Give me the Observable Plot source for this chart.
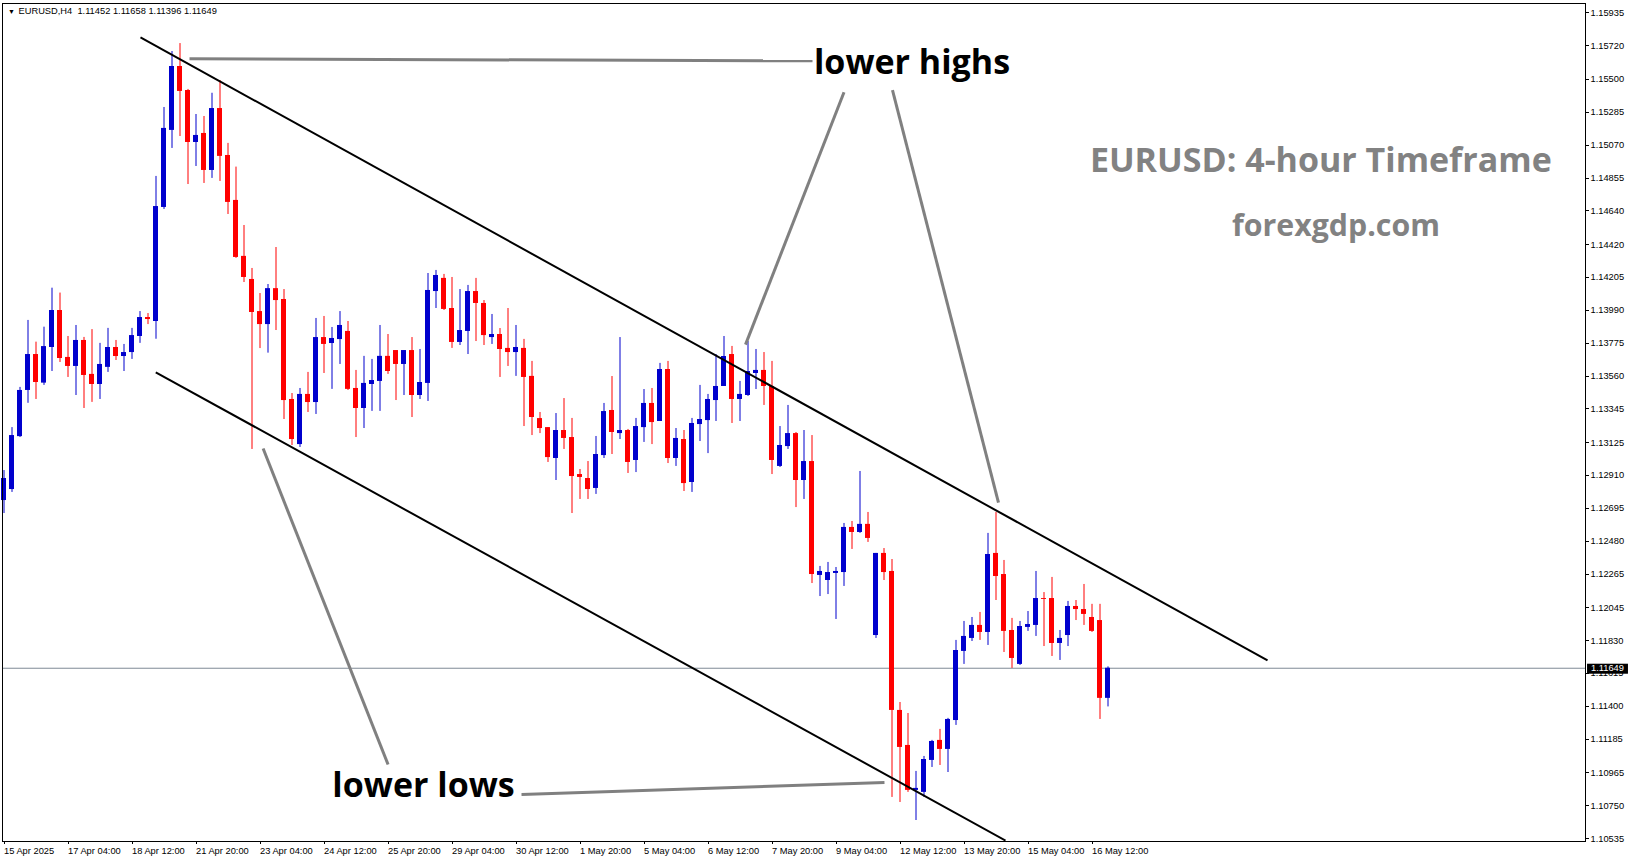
<!DOCTYPE html>
<html><head><meta charset="utf-8">
<script src="https://cdn.jsdelivr.net/npm/d3@7"></script>
<script src="https://cdn.jsdelivr.net/npm/@observablehq/plot@0.6"></script>
<style>
html,body{margin:0;padding:0;background:#fff;overflow:hidden;}
#chart svg{display:block;}
</style></head><body><div id="chart"></div>
<script>
// ---- data (EURUSD H4, bar 0 = 15 Apr 2025 20:00, weekends skipped) ----
const opens = [1.12746,1.12818,1.13164,1.13466,1.13701,1.13514,1.13747,1.13989,1.13682,1.13623,
1.13793,1.13571,1.13505,1.13617,1.13747,1.13688,1.13714,1.13819,1.13943,1.13917,
1.14663,1.15167,1.15585,1.15428,1.15088,1.15147,1.14905,1.15310,1.15003,1.14709,
1.14343,1.14192,1.13982,1.13897,1.14132,1.14061,1.13407,1.13112,1.13440,1.13387,
1.13812,1.13773,1.13799,1.13852,1.13479,1.13348,1.13505,1.13525,1.13689,1.13727,
1.13636,1.13727,1.13433,1.13512,1.14113,1.14199,1.14002,1.13780,1.13852,1.14113,
1.14035,1.13812,1.13832,1.13741,1.13714,1.13741,1.13558,1.13282,1.13223,1.13021,
1.13204,1.13158,1.12916,1.12890,1.12825,1.13040,1.13335,1.13184,1.13204,1.13008,
1.13223,1.13381,1.13263,1.13603,1.13021,1.13145,1.12864,1.13243,1.13269,1.13400,
1.13492,1.13701,1.13407,1.13433,1.13577,1.13597,1.13492,1.12969,1.13099,1.13184,
1.12877,1.13001,1.12256,1.12223,1.12269,1.12275,1.12570,1.12537,1.12590,1.11863,
1.12400,1.12282,1.11373,1.11144,1.10850,1.10837,1.11046,1.11177,1.11118,1.11307,
1.11759,1.11844,1.11929,1.11883,1.12400,1.12262,1.11896,1.11674,1.11916,1.11929,
1.12105,1.12105,1.11811,1.11863,1.12053,1.12033,1.11981,1.11961,1.11452];
const highs = [1.12942,1.13223,1.13486,1.13924,1.13782,1.13880,1.14135,1.14103,1.13819,1.13891,
1.13813,1.13864,1.13774,1.13872,1.13793,1.13767,1.13872,1.13982,1.13969,1.14866,
1.15317,1.15683,1.15735,1.15435,1.15271,1.15258,1.15410,1.15493,1.15082,1.14927,
1.14545,1.14264,1.14100,1.14159,1.14401,1.14126,1.13446,1.13479,1.13584,1.13937,
1.13950,1.13878,1.13982,1.13917,1.13597,1.13689,1.13669,1.13891,1.13832,1.13727,
1.13727,1.13812,1.13734,1.14231,1.14251,1.14225,1.14205,1.14126,1.14153,1.14199,
1.14054,1.13963,1.13871,1.14002,1.13891,1.13800,1.13656,1.13322,1.13223,1.13315,
1.13413,1.13283,1.12949,1.13001,1.13165,1.13381,1.13557,1.13812,1.13211,1.13283,
1.13472,1.13479,1.13643,1.13656,1.13217,1.13204,1.13283,1.13499,1.13440,1.13701,
1.13819,1.13754,1.13525,1.13786,1.13734,1.13714,1.13656,1.13230,1.13368,1.13191,
1.13204,1.13171,1.12315,1.12341,1.12308,1.12596,1.12609,1.12936,1.12668,1.12400,
1.12432,1.12360,1.11425,1.11353,1.10974,1.11072,1.11177,1.11249,1.11321,1.11831,
1.11955,1.11981,1.12014,1.12531,1.12668,1.12354,1.11975,1.11955,1.12020,1.12282,
1.12144,1.12243,1.11896,1.12086,1.12092,1.12197,1.12067,1.12067,1.11658];
const lows = [1.12661,1.12799,1.13158,1.13382,1.13407,1.13499,1.13590,1.13649,1.13551,1.13433,
1.13348,1.13388,1.13407,1.13584,1.13662,1.13590,1.13669,1.13774,1.13897,1.13801,
1.14650,1.15049,1.15127,1.14813,1.14931,1.14820,1.14853,1.14833,1.14617,1.14330,
1.14172,1.13080,1.13740,1.13710,1.13858,1.13276,1.13106,1.13093,1.13322,1.13309,
1.13577,1.13473,1.13636,1.13466,1.13158,1.13217,1.13329,1.13329,1.13571,1.13400,
1.13433,1.13289,1.13407,1.13394,1.14002,1.13989,1.13741,1.13760,1.13701,1.13786,
1.13760,1.13767,1.13551,1.13623,1.13558,1.13230,1.13171,1.13184,1.12995,1.12877,
1.13080,1.12661,1.12753,1.12753,1.12786,1.13021,1.13047,1.13145,1.12923,1.12929,
1.13126,1.13112,1.13263,1.12988,1.12969,1.12805,1.12799,1.13132,1.13053,1.13263,
1.13492,1.13250,1.13263,1.13427,1.13472,1.13368,1.12916,1.12962,1.13080,1.12700,
1.12753,1.12203,1.12118,1.12131,1.11968,1.12184,1.12426,1.12531,1.12472,1.11844,
1.12223,1.10804,1.10771,1.10837,1.10653,1.10804,1.11000,1.11013,1.10967,1.11275,
1.11674,1.11824,1.11831,1.11798,1.12092,1.11752,1.11648,1.11667,1.11890,1.11857,
1.11791,1.11726,1.11700,1.11791,1.11961,1.11929,1.11883,1.11314,1.11396];
const closes = [1.12890,1.13171,1.13466,1.13701,1.13518,1.13753,1.13989,1.13675,1.13623,1.13793,
1.13564,1.13505,1.13636,1.13747,1.13688,1.13714,1.13825,1.13943,1.13930,1.14669,
1.15180,1.15585,1.15422,1.15088,1.15134,1.14905,1.15310,1.14997,1.14696,1.14336,
1.14205,1.13976,1.13897,1.14132,1.14054,1.13400,1.13145,1.13440,1.13387,1.13812,
1.13767,1.13806,1.13891,1.13473,1.13348,1.13512,1.13531,1.13689,1.13590,1.13636,
1.13727,1.13433,1.13518,1.14120,1.14218,1.13996,1.13780,1.13858,1.14113,1.14035,
1.13825,1.13832,1.13734,1.13714,1.13747,1.13551,1.13289,1.13217,1.13027,1.13204,
1.13152,1.12903,1.12897,1.12818,1.13047,1.13328,1.13191,1.13204,1.12995,1.13230,
1.13381,1.13256,1.13603,1.13021,1.13152,1.12857,1.13250,1.13276,1.13407,1.13492,
1.13688,1.13407,1.13440,1.13590,1.13597,1.13492,1.13008,1.13106,1.13184,1.12877,
1.13001,1.12262,1.12282,1.12275,1.12282,1.12570,1.12537,1.12590,1.12498,1.12400,
1.12275,1.11373,1.11131,1.10850,1.10863,1.11052,1.11170,1.11118,1.11314,1.11765,
1.11857,1.11929,1.11883,1.12393,1.12249,1.11890,1.11713,1.11922,1.11935,1.12105,
1.12099,1.11811,1.11844,1.12053,1.12033,1.12001,1.11890,1.11452,1.11649];

const timeLabels = ["15 Apr 2025","17 Apr 04:00","18 Apr 12:00","21 Apr 20:00","23 Apr 04:00","24 Apr 12:00",
"25 Apr 20:00","29 Apr 04:00","30 Apr 12:00","1 May 20:00","5 May 04:00","6 May 12:00","7 May 20:00",
"9 May 04:00","12 May 12:00","13 May 20:00","15 May 04:00","16 May 12:00"];
const timeLabelBars = [0,8,16,24,32,40,48,56,64,72,80,88,96,104,112,120,128,136];
const priceTicks = [1.15935,1.15720,1.15500,1.15285,1.15070,1.14855,1.14640,1.14420,1.14205,1.13990,
1.13775,1.13560,1.13345,1.13125,1.12910,1.12695,1.12480,1.12265,1.12045,1.11830,1.11615,1.11400,
1.11185,1.10965,1.10750,1.10535];
const headerText = "EURUSD,H4  1.11452 1.11658 1.11396 1.11649";
const bidPrice = 1.11649;

// annotations (bar index, price)
const channelLines = [
  {x1: 17.06, y1: 1.15775, x2: 157.94, y2: 1.11700},
  {x1: 18.97, y1: 1.13585, x2: 125.19, y2: 1.10522}
];
const pointerLines = [
  {x1: 23.19, y1: 1.15635, x2: 101.06, y2: 1.15622},
  {x1: 105.0, y1: 1.15417, x2: 92.69, y2: 1.13766},
  {x1: 111.06, y1: 1.15431, x2: 124.31, y2: 1.12733},
  {x1: 48.01, y1: 1.11019, x2: 32.39, y2: 1.13086},
  {x1: 64.69, y1: 1.10823, x2: 110.06, y2: 1.10901}
];
const callouts = [
  {bar: 113.5, price: 1.15605, text: "lower highs"},
  {bar: 52.44, price: 1.10876, text: "lower lows"}
];
const titles = [
  {bar: 164.6, price: 1.14963, text: "EURUSD: 4-hour Timeframe", size: 34},
  {bar: 166.5, price: 1.14538, text: "forexgdp.com", size: 30.3}
];

const bars = opens.map((o, i) => ({i, o, h: highs[i], l: lows[i], c: closes[i]}));
const BLUE = "#0000cd", RED = "#ff0000";
const col = d => d.c >= d.o ? BLUE : RED;
const LABEL_FILL = "#fffffe";

const plot = Plot.plot({
  width: 1631, height: 861,
  marginLeft: 2, marginRight: 46, marginTop: 3, marginBottom: 20,
  x: {type: "linear", domain: [-0.1875, 197.6875]},
  y: {type: "linear", domain: [1.105157, 1.159971]},
  style: {fontFamily: "'Liberation Sans', Arial, sans-serif", fontSize: "9.3px", background: "#fff", color: "#000", overflow: "visible"},
  marks: [
    Plot.ruleY([bidPrice], {y: d => d, stroke: "#7f8a96", strokeWidth: 1}),
    Plot.ruleX(bars, {x: "i", y1: "l", y2: "h", stroke: col, strokeWidth: 1}),
    Plot.rect(bars, {x1: d => d.i - 0.3125, x2: d => d.i + 0.3125, y1: "o", y2: "c", fill: col}),
    Plot.link(channelLines, {x1: "x1", y1: "y1", x2: "x2", y2: "y2", stroke: "#000", strokeWidth: 2, clip: true}),
    Plot.link(pointerLines, {x1: "x1", y1: "y1", x2: "x2", y2: "y2", stroke: "#808080", strokeWidth: 3}),
    Plot.text(callouts, {x: "bar", y: "price", text: "text", fontSize: 34, fontWeight: 700,
      fontFamily: "'Open Sans', sans-serif", fill: "#000", textAnchor: "middle", lineAnchor: "middle"}),
    Plot.text(titles, {x: "bar", y: "price", text: "text", fontSize: d => d.size, fontWeight: 700,
      fontFamily: "'Open Sans', sans-serif", fill: "#828282", textAnchor: "middle", lineAnchor: "middle"}),
    Plot.frame({stroke: "#000", shapeRendering: "crispEdges"}),
    Plot.axisY({anchor: "right", ticks: priceTicks, tickSize: 3, tickPadding: 2,
      tickFormat: d => d.toFixed(5), shapeRendering: "crispEdges"}),
    Plot.axisX({anchor: "bottom", ticks: timeLabelBars, tickSize: 3, tickPadding: 3,
      tickFormat: d => timeLabels[timeLabelBars.indexOf(d)], textAnchor: "start", shapeRendering: "crispEdges"}),
    Plot.text([headerText], {frameAnchor: "top-left", dx: 16, dy: 8, textAnchor: "start", lineAnchor: "middle", text: d => d}),
    Plot.text(["▼"], {frameAnchor: "top-left", dx: 9, dy: 8, textAnchor: "middle", lineAnchor: "middle", fontSize: 7, text: d => d}),
    Plot.text([bidPrice], {y: d => d, frameAnchor: "right", dx: 22, text: d => d.toFixed(5), fill: LABEL_FILL,
      textAnchor: "middle", lineAnchor: "middle"})
  ]
});
document.getElementById("chart").appendChild(plot);

// black background box behind the bid price label (same transform as its text)
d3.select(plot).selectAll("text").each(function() {
  const own = this.getAttribute("fill");
  const parentFill = this.parentNode.getAttribute("fill");
  if (own !== LABEL_FILL && parentFill !== LABEL_FILL) return;
  const b = this.getBBox();
  const r = d3.create("svg:rect")
    .attr("x", b.x - 4).attr("y", b.y + 0.5)
    .attr("width", b.width + 8).attr("height", b.height)
    .attr("fill", "#000");
  const t = this.getAttribute("transform");
  if (t) r.attr("transform", t);
  this.parentNode.insertBefore(r.node(), this);
});
</script></body></html>
